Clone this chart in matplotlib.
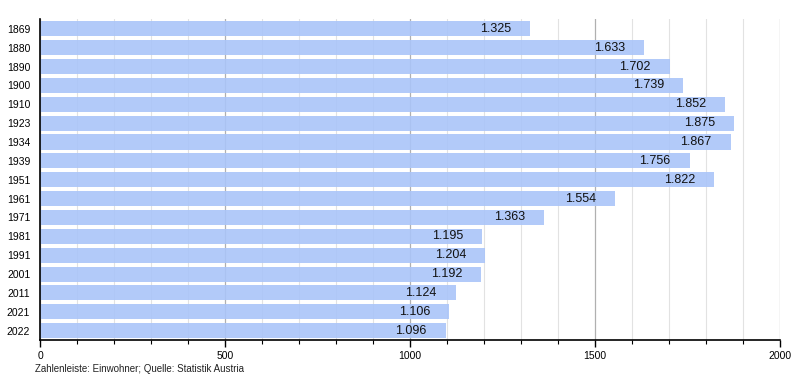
import matplotlib.pyplot as plt
from matplotlib.ticker import MultipleLocator

years = ["1869", "1880", "1890", "1900", "1910", "1923", "1934", "1939", "1951",
         "1961", "1971", "1981", "1991", "2001", "2011", "2021", "2022"]
population = [1325, 1633, 1702, 1739, 1852, 1875, 1867, 1756, 1822,
              1554, 1363, 1195, 1204, 1192, 1124, 1106, 1096]
value_labels = ["1.325", "1.633", "1.702", "1.739", "1.852", "1.875", "1.867", "1.756", "1.822",
                "1.554", "1.363", "1.195", "1.204", "1.192", "1.124", "1.106", "1.096"]

plt.rcParams['font.family'] = ['Liberation Sans', 'DejaVu Sans']

fig = plt.figure(figsize=(8, 3.8), dpi=100)
ax = fig.add_axes([0.05, 0.105, 0.925, 0.844])

pos = list(range(len(years)))
# slightly transparent bars so the grid shows faintly through them
bars = ax.barh(pos, population, height=0.8, color='#aac5f9', alpha=0.9, zorder=2)

# value labels at the right end of each bar
for b, lab in zip(bars, value_labels):
    ax.annotate(lab, xy=(b.get_width(), b.get_y() + b.get_height() / 2),
                xytext=(-19, 0), textcoords='offset pixels',
                ha='right', va='center', fontsize=9, color='#111111', zorder=3)

ax.set_xlim(0, 2000)
ax.set_ylim(len(years) - 0.5, -0.5)
ax.set_yticks(pos)
ax.set_yticklabels(years, fontsize=7.5)
ax.tick_params(axis='y', length=0, pad=7)

ax.xaxis.set_major_locator(MultipleLocator(500))
ax.xaxis.set_minor_locator(MultipleLocator(100))
ax.tick_params(axis='x', which='major', length=5, width=1, labelsize=7.5, pad=3)
ax.tick_params(axis='x', which='minor', length=3, width=0.8)
ax.grid(axis='x', which='major', color='#b0b0b0', linewidth=0.9, zorder=1)
ax.grid(axis='x', which='minor', color='#e2e2e2', linewidth=0.8, zorder=1)
ax.set_axisbelow(True)

for s in ['top', 'right']:
    ax.spines[s].set_visible(False)
ax.spines['left'].set_linewidth(1.2)
ax.spines['bottom'].set_linewidth(1.2)
ax.spines['left'].set_zorder(4)
ax.spines['bottom'].set_zorder(4)

fig.text(0.044, 0.02, "Zahlenleiste: Einwohner; Quelle: Statistik Austria", fontsize=7, color='#222222')

fig.savefig("out.png", dpi=100)
